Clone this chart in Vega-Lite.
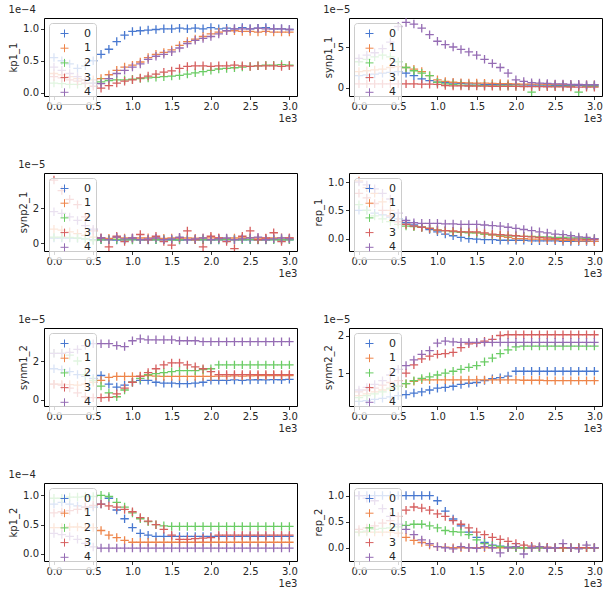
{
"$schema":"https://vega.github.io/schema/vega-lite/v6.json",
"background":"white",
"padding":{"left":8,"top":4,"right":4,"bottom":4},
"bounds":"flush",
"columns":2,
"spacing":{"row":77,"column":52},
"resolve":{"scale":{"color":"independent"},"legend":{"color":"independent"}},
"config":{
"font":"DejaVu Sans",
"view":{"stroke":"#000","strokeWidth":1},
"axis":{"domain":false,"grid":false,"tickColor":"#000","tickSize":3.5,"tickWidth":0.8,"labelFontSize":10,"labelColor":"#262626","titleFontSize":10,"titleFontWeight":"normal","titleColor":"#262626","labelPadding":2,"labelFlush":false,"labelOverlap":false},
"axisY":{"titlePadding":4},
"axisX":{"titleAnchor":"end","titlePadding":2},
"title":{"fontSize":10,"fontWeight":"normal","anchor":"start","offset":3,"color":"#262626"},
"legend":{"orient":"top-left","offset":5,"fillColor":"rgba(255,255,255,0.8)","strokeColor":"#cccccc","padding":5,"cornerRadius":3,"labelFontSize":11,"labelColor":"#262626","symbolType":"M-1,0L1,0M0,-1L0,1","symbolSize":64,"symbolStrokeWidth":1,"rowPadding":1.7,"labelOffset":14,"symbolOffset":5}
},
"datasets":{
"kp1_1":[
{"s":0,"x":0,"y":0.55},{"s":0,"x":100,"y":0.5},{"s":0,"x":200,"y":0.45},{"s":0,"x":300,"y":0.38},{"s":0,"x":400,"y":0.42},{"s":0,"x":500,"y":0.5},{"s":0,"x":600,"y":0.6},{"s":0,"x":700,"y":0.68},{"s":0,"x":800,"y":0.8},{"s":0,"x":900,"y":0.9},{"s":0,"x":1000,"y":0.96},{"s":0,"x":1100,"y":0.97},{"s":0,"x":1200,"y":0.98},{"s":0,"x":1300,"y":0.99},{"s":0,"x":1400,"y":1.0},{"s":0,"x":1500,"y":1.0},{"s":0,"x":1600,"y":1.01},{"s":0,"x":1700,"y":1.0},{"s":0,"x":1800,"y":1.01},{"s":0,"x":1900,"y":1.0},{"s":0,"x":2000,"y":1.02},{"s":0,"x":2100,"y":1.0},{"s":0,"x":2200,"y":1.01},{"s":0,"x":2300,"y":1.0},{"s":0,"x":2400,"y":1.02},{"s":0,"x":2500,"y":1.0},{"s":0,"x":2600,"y":1.01},{"s":0,"x":2700,"y":1.02},{"s":0,"x":2800,"y":1.0},{"s":0,"x":2900,"y":1.0},{"s":0,"x":3000,"y":0.99},
{"s":1,"x":0,"y":0.3},{"s":1,"x":100,"y":0.28},{"s":1,"x":200,"y":0.25},{"s":1,"x":300,"y":0.22},{"s":1,"x":400,"y":0.2},{"s":1,"x":500,"y":0.2},{"s":1,"x":600,"y":0.22},{"s":1,"x":700,"y":0.28},{"s":1,"x":800,"y":0.35},{"s":1,"x":900,"y":0.4},{"s":1,"x":1000,"y":0.43},{"s":1,"x":1100,"y":0.48},{"s":1,"x":1200,"y":0.55},{"s":1,"x":1300,"y":0.6},{"s":1,"x":1400,"y":0.63},{"s":1,"x":1500,"y":0.67},{"s":1,"x":1600,"y":0.74},{"s":1,"x":1700,"y":0.8},{"s":1,"x":1800,"y":0.84},{"s":1,"x":1900,"y":0.88},{"s":1,"x":2000,"y":0.92},{"s":1,"x":2100,"y":0.95},{"s":1,"x":2200,"y":0.97},{"s":1,"x":2300,"y":0.97},{"s":1,"x":2400,"y":0.96},{"s":1,"x":2500,"y":0.96},{"s":1,"x":2600,"y":0.95},{"s":1,"x":2700,"y":0.96},{"s":1,"x":2800,"y":0.95},{"s":1,"x":2900,"y":0.95},{"s":1,"x":3000,"y":0.95},
{"s":2,"x":0,"y":0.15},{"s":2,"x":100,"y":0.14},{"s":2,"x":200,"y":0.13},{"s":2,"x":300,"y":0.13},{"s":2,"x":400,"y":0.14},{"s":2,"x":500,"y":0.15},{"s":2,"x":600,"y":0.17},{"s":2,"x":700,"y":0.19},{"s":2,"x":800,"y":0.2},{"s":2,"x":900,"y":0.2},{"s":2,"x":1000,"y":0.21},{"s":2,"x":1100,"y":0.22},{"s":2,"x":1200,"y":0.23},{"s":2,"x":1300,"y":0.24},{"s":2,"x":1400,"y":0.25},{"s":2,"x":1500,"y":0.26},{"s":2,"x":1600,"y":0.27},{"s":2,"x":1700,"y":0.29},{"s":2,"x":1800,"y":0.31},{"s":2,"x":1900,"y":0.33},{"s":2,"x":2000,"y":0.35},{"s":2,"x":2100,"y":0.37},{"s":2,"x":2200,"y":0.38},{"s":2,"x":2300,"y":0.39},{"s":2,"x":2400,"y":0.4},{"s":2,"x":2500,"y":0.41},{"s":2,"x":2600,"y":0.42},{"s":2,"x":2700,"y":0.43},{"s":2,"x":2800,"y":0.43},{"s":2,"x":2900,"y":0.44},{"s":2,"x":3000,"y":0.43},
{"s":3,"x":0,"y":0.25},{"s":3,"x":100,"y":0.23},{"s":3,"x":200,"y":0.2},{"s":3,"x":300,"y":0.18},{"s":3,"x":400,"y":0.15},{"s":3,"x":500,"y":0.1},{"s":3,"x":600,"y":0.07},{"s":3,"x":700,"y":0.11},{"s":3,"x":800,"y":0.15},{"s":3,"x":900,"y":0.18},{"s":3,"x":1000,"y":0.2},{"s":3,"x":1100,"y":0.23},{"s":3,"x":1200,"y":0.26},{"s":3,"x":1300,"y":0.29},{"s":3,"x":1400,"y":0.32},{"s":3,"x":1500,"y":0.34},{"s":3,"x":1600,"y":0.38},{"s":3,"x":1700,"y":0.41},{"s":3,"x":1800,"y":0.42},{"s":3,"x":1900,"y":0.42},{"s":3,"x":2000,"y":0.41},{"s":3,"x":2100,"y":0.42},{"s":3,"x":2200,"y":0.42},{"s":3,"x":2300,"y":0.43},{"s":3,"x":2400,"y":0.42},{"s":3,"x":2500,"y":0.41},{"s":3,"x":2600,"y":0.42},{"s":3,"x":2700,"y":0.42},{"s":3,"x":2800,"y":0.42},{"s":3,"x":2900,"y":0.41},{"s":3,"x":3000,"y":0.42},
{"s":4,"x":0,"y":0.4},{"s":4,"x":100,"y":0.35},{"s":4,"x":200,"y":0.3},{"s":4,"x":300,"y":0.25},{"s":4,"x":400,"y":0.2},{"s":4,"x":500,"y":0.15},{"s":4,"x":600,"y":0.14},{"s":4,"x":700,"y":0.22},{"s":4,"x":800,"y":0.3},{"s":4,"x":900,"y":0.35},{"s":4,"x":1000,"y":0.4},{"s":4,"x":1100,"y":0.45},{"s":4,"x":1200,"y":0.52},{"s":4,"x":1300,"y":0.57},{"s":4,"x":1400,"y":0.6},{"s":4,"x":1500,"y":0.64},{"s":4,"x":1600,"y":0.7},{"s":4,"x":1700,"y":0.77},{"s":4,"x":1800,"y":0.82},{"s":4,"x":1900,"y":0.85},{"s":4,"x":2000,"y":0.88},{"s":4,"x":2100,"y":0.92},{"s":4,"x":2200,"y":0.97},{"s":4,"x":2300,"y":1.0},{"s":4,"x":2400,"y":1.0},{"s":4,"x":2500,"y":1.0},{"s":4,"x":2600,"y":1.01},{"s":4,"x":2700,"y":1.0},{"s":4,"x":2800,"y":1.0},{"s":4,"x":2900,"y":1.0},{"s":4,"x":3000,"y":0.99}
],
"synp1_1":[
{"s":0,"x":0,"y":1.5},{"s":0,"x":100,"y":1.6},{"s":0,"x":200,"y":1.7},{"s":0,"x":300,"y":1.8},{"s":0,"x":400,"y":1.9},{"s":0,"x":500,"y":2.0},{"s":0,"x":600,"y":1.8},{"s":0,"x":700,"y":1.5},{"s":0,"x":800,"y":1.1},{"s":0,"x":900,"y":0.9},{"s":0,"x":1000,"y":0.7},{"s":0,"x":1100,"y":0.65},{"s":0,"x":1200,"y":0.6},{"s":0,"x":1300,"y":0.55},{"s":0,"x":1400,"y":0.5},{"s":0,"x":1500,"y":0.5},{"s":0,"x":1600,"y":0.45},{"s":0,"x":1700,"y":0.45},{"s":0,"x":1800,"y":0.42},{"s":0,"x":1900,"y":0.4},{"s":0,"x":2000,"y":0.4},{"s":0,"x":2100,"y":0.38},{"s":0,"x":2200,"y":0.36},{"s":0,"x":2300,"y":0.35},{"s":0,"x":2400,"y":0.34},{"s":0,"x":2500,"y":0.33},{"s":0,"x":2600,"y":0.32},{"s":0,"x":2700,"y":0.31},{"s":0,"x":2800,"y":0.3},{"s":0,"x":2900,"y":0.3},{"s":0,"x":3000,"y":0.3},
{"s":1,"x":0,"y":2.0},{"s":1,"x":100,"y":2.1},{"s":1,"x":200,"y":2.2},{"s":1,"x":300,"y":2.3},{"s":1,"x":400,"y":2.5},{"s":1,"x":500,"y":2.6},{"s":1,"x":600,"y":2.5},{"s":1,"x":700,"y":2.3},{"s":1,"x":800,"y":2.0},{"s":1,"x":900,"y":1.5},{"s":1,"x":1000,"y":1.0},{"s":1,"x":1100,"y":0.8},{"s":1,"x":1200,"y":0.7},{"s":1,"x":1300,"y":0.65},{"s":1,"x":1400,"y":0.62},{"s":1,"x":1500,"y":0.6},{"s":1,"x":1600,"y":0.58},{"s":1,"x":1700,"y":0.56},{"s":1,"x":1800,"y":0.54},{"s":1,"x":1900,"y":0.52},{"s":1,"x":2000,"y":0.5},{"s":1,"x":2100,"y":0.48},{"s":1,"x":2200,"y":0.47},{"s":1,"x":2300,"y":0.46},{"s":1,"x":2400,"y":0.45},{"s":1,"x":2500,"y":0.44},{"s":1,"x":2600,"y":0.43},{"s":1,"x":2700,"y":0.42},{"s":1,"x":2800,"y":0.41},{"s":1,"x":2900,"y":0.4},{"s":1,"x":3000,"y":0.4},
{"s":2,"x":0,"y":3.2},{"s":2,"x":100,"y":3.5},{"s":2,"x":200,"y":3.8},{"s":2,"x":300,"y":4.0},{"s":2,"x":400,"y":3.8},{"s":2,"x":500,"y":3.2},{"s":2,"x":600,"y":2.5},{"s":2,"x":700,"y":2.1},{"s":2,"x":800,"y":1.8},{"s":2,"x":900,"y":1.5},{"s":2,"x":1000,"y":0.7},{"s":2,"x":1100,"y":0.5},{"s":2,"x":1200,"y":0.4},{"s":2,"x":1300,"y":0.35},{"s":2,"x":1400,"y":0.3},{"s":2,"x":1500,"y":0.3},{"s":2,"x":1600,"y":0.28},{"s":2,"x":1700,"y":0.26},{"s":2,"x":1800,"y":0.25},{"s":2,"x":1900,"y":0.24},{"s":2,"x":2000,"y":0.22},{"s":2,"x":2100,"y":0.2},{"s":2,"x":2200,"y":-0.5},{"s":2,"x":2300,"y":0.2},{"s":2,"x":2400,"y":0.2},{"s":2,"x":2500,"y":0.2},{"s":2,"x":2600,"y":0.2},{"s":2,"x":2700,"y":0.2},{"s":2,"x":2800,"y":-0.5},{"s":2,"x":2900,"y":0.2},{"s":2,"x":3000,"y":0.2},
{"s":3,"x":0,"y":0.5},{"s":3,"x":100,"y":0.5},{"s":3,"x":200,"y":0.5},{"s":3,"x":300,"y":0.5},{"s":3,"x":400,"y":0.5},{"s":3,"x":500,"y":0.5},{"s":3,"x":600,"y":0.5},{"s":3,"x":700,"y":0.5},{"s":3,"x":800,"y":0.48},{"s":3,"x":900,"y":0.46},{"s":3,"x":1000,"y":0.45},{"s":3,"x":1100,"y":0.3},{"s":3,"x":1200,"y":0.25},{"s":3,"x":1300,"y":0.25},{"s":3,"x":1400,"y":0.24},{"s":3,"x":1500,"y":0.23},{"s":3,"x":1600,"y":0.22},{"s":3,"x":1700,"y":0.21},{"s":3,"x":1800,"y":0.2},{"s":3,"x":1900,"y":0.2},{"s":3,"x":2000,"y":0.19},{"s":3,"x":2100,"y":0.18},{"s":3,"x":2200,"y":0.17},{"s":3,"x":2300,"y":0.16},{"s":3,"x":2400,"y":0.15},{"s":3,"x":2500,"y":0.14},{"s":3,"x":2600,"y":0.13},{"s":3,"x":2700,"y":0.12},{"s":3,"x":2800,"y":0.11},{"s":3,"x":2900,"y":0.1},{"s":3,"x":3000,"y":0.1},
{"s":4,"x":0,"y":3.6},{"s":4,"x":100,"y":4.0},{"s":4,"x":200,"y":4.3},{"s":4,"x":300,"y":4.8},{"s":4,"x":400,"y":5.6},{"s":4,"x":500,"y":7.5},{"s":4,"x":600,"y":8.0},{"s":4,"x":700,"y":7.8},{"s":4,"x":800,"y":7.3},{"s":4,"x":900,"y":6.5},{"s":4,"x":1000,"y":5.7},{"s":4,"x":1100,"y":5.3},{"s":4,"x":1200,"y":5.0},{"s":4,"x":1300,"y":4.7},{"s":4,"x":1400,"y":4.4},{"s":4,"x":1500,"y":4.0},{"s":4,"x":1600,"y":3.5},{"s":4,"x":1700,"y":3.0},{"s":4,"x":1800,"y":2.5},{"s":4,"x":1900,"y":1.8},{"s":4,"x":2000,"y":1.0},{"s":4,"x":2100,"y":0.8},{"s":4,"x":2200,"y":0.65},{"s":4,"x":2300,"y":0.6},{"s":4,"x":2400,"y":0.55},{"s":4,"x":2500,"y":0.5},{"s":4,"x":2600,"y":0.5},{"s":4,"x":2700,"y":0.45},{"s":4,"x":2800,"y":0.45},{"s":4,"x":2900,"y":0.4},{"s":4,"x":3000,"y":0.4}
],
"synp2_1":[
{"s":0,"x":0,"y":0.3},{"s":0,"x":100,"y":0.3},{"s":0,"x":200,"y":0.3},{"s":0,"x":300,"y":0.28},{"s":0,"x":400,"y":0.25},{"s":0,"x":500,"y":0.2},{"s":0,"x":600,"y":0.2},{"s":0,"x":700,"y":0.22},{"s":0,"x":800,"y":0.18},{"s":0,"x":900,"y":0.2},{"s":0,"x":1000,"y":0.21},{"s":0,"x":1100,"y":0.2},{"s":0,"x":1200,"y":0.19},{"s":0,"x":1300,"y":0.2},{"s":0,"x":1400,"y":0.22},{"s":0,"x":1500,"y":0.2},{"s":0,"x":1600,"y":0.18},{"s":0,"x":1700,"y":0.2},{"s":0,"x":1800,"y":0.21},{"s":0,"x":1900,"y":0.2},{"s":0,"x":2000,"y":0.2},{"s":0,"x":2100,"y":0.19},{"s":0,"x":2200,"y":0.2},{"s":0,"x":2300,"y":0.21},{"s":0,"x":2400,"y":0.2},{"s":0,"x":2500,"y":0.2},{"s":0,"x":2600,"y":0.19},{"s":0,"x":2700,"y":0.2},{"s":0,"x":2800,"y":0.21},{"s":0,"x":2900,"y":0.2},{"s":0,"x":3000,"y":0.2},
{"s":1,"x":0,"y":0.8},{"s":1,"x":100,"y":0.75},{"s":1,"x":200,"y":0.65},{"s":1,"x":300,"y":0.55},{"s":1,"x":400,"y":0.45},{"s":1,"x":500,"y":0.35},{"s":1,"x":600,"y":0.3},{"s":1,"x":700,"y":0.28},{"s":1,"x":800,"y":0.32},{"s":1,"x":900,"y":0.3},{"s":1,"x":1000,"y":0.29},{"s":1,"x":1100,"y":0.3},{"s":1,"x":1200,"y":0.31},{"s":1,"x":1300,"y":0.3},{"s":1,"x":1400,"y":0.28},{"s":1,"x":1500,"y":0.3},{"s":1,"x":1600,"y":0.32},{"s":1,"x":1700,"y":0.3},{"s":1,"x":1800,"y":0.29},{"s":1,"x":1900,"y":0.3},{"s":1,"x":2000,"y":0.31},{"s":1,"x":2100,"y":0.3},{"s":1,"x":2200,"y":0.28},{"s":1,"x":2300,"y":0.3},{"s":1,"x":2400,"y":0.3},{"s":1,"x":2500,"y":0.32},{"s":1,"x":2600,"y":0.3},{"s":1,"x":2700,"y":0.29},{"s":1,"x":2800,"y":0.3},{"s":1,"x":2900,"y":0.31},{"s":1,"x":3000,"y":0.3},
{"s":2,"x":0,"y":0.35},{"s":2,"x":100,"y":0.35},{"s":2,"x":200,"y":0.33},{"s":2,"x":300,"y":0.3},{"s":2,"x":400,"y":0.25},{"s":2,"x":500,"y":0.15},{"s":2,"x":600,"y":0.2},{"s":2,"x":700,"y":0.2},{"s":2,"x":800,"y":0.22},{"s":2,"x":900,"y":0.2},{"s":2,"x":1000,"y":0.19},{"s":2,"x":1100,"y":0.2},{"s":2,"x":1200,"y":0.21},{"s":2,"x":1300,"y":0.2},{"s":2,"x":1400,"y":0.2},{"s":2,"x":1500,"y":0.18},{"s":2,"x":1600,"y":0.2},{"s":2,"x":1700,"y":0.21},{"s":2,"x":1800,"y":0.2},{"s":2,"x":1900,"y":0.2},{"s":2,"x":2000,"y":0.19},{"s":2,"x":2100,"y":0.2},{"s":2,"x":2200,"y":0.22},{"s":2,"x":2300,"y":0.2},{"s":2,"x":2400,"y":0.2},{"s":2,"x":2500,"y":0.21},{"s":2,"x":2600,"y":0.2},{"s":2,"x":2700,"y":0.19},{"s":2,"x":2800,"y":0.2},{"s":2,"x":2900,"y":0.2},{"s":2,"x":3000,"y":0.2},
{"s":3,"x":0,"y":3.6},{"s":3,"x":100,"y":3.0},{"s":3,"x":200,"y":2.5},{"s":3,"x":300,"y":2.2},{"s":3,"x":400,"y":1.5},{"s":3,"x":500,"y":0.7},{"s":3,"x":600,"y":0.3},{"s":3,"x":700,"y":-0.2},{"s":3,"x":800,"y":0.4},{"s":3,"x":900,"y":0.1},{"s":3,"x":1000,"y":0.3},{"s":3,"x":1100,"y":0.5},{"s":3,"x":1200,"y":0.2},{"s":3,"x":1300,"y":0.4},{"s":3,"x":1400,"y":0.1},{"s":3,"x":1500,"y":-0.1},{"s":3,"x":1600,"y":0.3},{"s":3,"x":1700,"y":0.7},{"s":3,"x":1800,"y":0.2},{"s":3,"x":1900,"y":-0.2},{"s":3,"x":2000,"y":0.4},{"s":3,"x":2100,"y":0.3},{"s":3,"x":2200,"y":0.1},{"s":3,"x":2300,"y":-0.3},{"s":3,"x":2400,"y":0.4},{"s":3,"x":2500,"y":0.7},{"s":3,"x":2600,"y":0.2},{"s":3,"x":2700,"y":0.3},{"s":3,"x":2800,"y":0.6},{"s":3,"x":2900,"y":0.1},{"s":3,"x":3000,"y":0.3},
{"s":4,"x":0,"y":1.8},{"s":4,"x":100,"y":1.7},{"s":4,"x":200,"y":1.5},{"s":4,"x":300,"y":1.3},{"s":4,"x":400,"y":1.0},{"s":4,"x":500,"y":0.8},{"s":4,"x":600,"y":0.3},{"s":4,"x":700,"y":0.2},{"s":4,"x":800,"y":0.35},{"s":4,"x":900,"y":0.25},{"s":4,"x":1000,"y":0.3},{"s":4,"x":1100,"y":0.2},{"s":4,"x":1200,"y":0.25},{"s":4,"x":1300,"y":0.3},{"s":4,"x":1400,"y":0.2},{"s":4,"x":1500,"y":0.25},{"s":4,"x":1600,"y":0.35},{"s":4,"x":1700,"y":0.2},{"s":4,"x":1800,"y":0.25},{"s":4,"x":1900,"y":0.3},{"s":4,"x":2000,"y":0.2},{"s":4,"x":2100,"y":0.25},{"s":4,"x":2200,"y":0.3},{"s":4,"x":2300,"y":0.2},{"s":4,"x":2400,"y":0.25},{"s":4,"x":2500,"y":0.3},{"s":4,"x":2600,"y":0.35},{"s":4,"x":2700,"y":0.2},{"s":4,"x":2800,"y":0.25},{"s":4,"x":2900,"y":0.3},{"s":4,"x":3000,"y":0.25}
],
"rep_1":[
{"s":0,"x":0,"y":0.5},{"s":0,"x":100,"y":0.5},{"s":0,"x":200,"y":0.45},{"s":0,"x":300,"y":0.42},{"s":0,"x":400,"y":0.38},{"s":0,"x":500,"y":0.35},{"s":0,"x":600,"y":0.28},{"s":0,"x":700,"y":0.24},{"s":0,"x":800,"y":0.2},{"s":0,"x":900,"y":0.16},{"s":0,"x":1000,"y":0.12},{"s":0,"x":1100,"y":0.08},{"s":0,"x":1200,"y":0.05},{"s":0,"x":1300,"y":0.02},{"s":0,"x":1400,"y":0.0},{"s":0,"x":1500,"y":-0.01},{"s":0,"x":1600,"y":-0.02},{"s":0,"x":1700,"y":-0.02},{"s":0,"x":1800,"y":-0.03},{"s":0,"x":1900,"y":-0.03},{"s":0,"x":2000,"y":-0.03},{"s":0,"x":2100,"y":-0.03},{"s":0,"x":2200,"y":-0.04},{"s":0,"x":2300,"y":-0.04},{"s":0,"x":2400,"y":-0.04},{"s":0,"x":2500,"y":-0.04},{"s":0,"x":2600,"y":-0.05},{"s":0,"x":2700,"y":-0.05},{"s":0,"x":2800,"y":-0.05},{"s":0,"x":2900,"y":-0.05},{"s":0,"x":3000,"y":-0.05},
{"s":1,"x":0,"y":1.02},{"s":1,"x":100,"y":0.9},{"s":1,"x":200,"y":0.8},{"s":1,"x":300,"y":0.65},{"s":1,"x":400,"y":0.5},{"s":1,"x":500,"y":0.3},{"s":1,"x":600,"y":0.25},{"s":1,"x":700,"y":0.22},{"s":1,"x":800,"y":0.2},{"s":1,"x":900,"y":0.18},{"s":1,"x":1000,"y":0.15},{"s":1,"x":1100,"y":0.14},{"s":1,"x":1200,"y":0.13},{"s":1,"x":1300,"y":0.12},{"s":1,"x":1400,"y":0.11},{"s":1,"x":1500,"y":0.1},{"s":1,"x":1600,"y":0.08},{"s":1,"x":1700,"y":0.06},{"s":1,"x":1800,"y":0.04},{"s":1,"x":1900,"y":0.02},{"s":1,"x":2000,"y":0.0},{"s":1,"x":2100,"y":0.0},{"s":1,"x":2200,"y":-0.01},{"s":1,"x":2300,"y":-0.01},{"s":1,"x":2400,"y":-0.02},{"s":1,"x":2500,"y":-0.02},{"s":1,"x":2600,"y":-0.03},{"s":1,"x":2700,"y":-0.03},{"s":1,"x":2800,"y":-0.04},{"s":1,"x":2900,"y":-0.04},{"s":1,"x":3000,"y":-0.05},
{"s":2,"x":0,"y":0.6},{"s":2,"x":100,"y":0.5},{"s":2,"x":200,"y":0.4},{"s":2,"x":300,"y":0.35},{"s":2,"x":400,"y":0.3},{"s":2,"x":500,"y":0.25},{"s":2,"x":600,"y":0.22},{"s":2,"x":700,"y":0.21},{"s":2,"x":800,"y":0.2},{"s":2,"x":900,"y":0.18},{"s":2,"x":1000,"y":0.15},{"s":2,"x":1100,"y":0.14},{"s":2,"x":1200,"y":0.12},{"s":2,"x":1300,"y":0.11},{"s":2,"x":1400,"y":0.1},{"s":2,"x":1500,"y":0.1},{"s":2,"x":1600,"y":0.08},{"s":2,"x":1700,"y":0.07},{"s":2,"x":1800,"y":0.06},{"s":2,"x":1900,"y":0.05},{"s":2,"x":2000,"y":0.05},{"s":2,"x":2100,"y":0.04},{"s":2,"x":2200,"y":0.04},{"s":2,"x":2300,"y":0.03},{"s":2,"x":2400,"y":0.03},{"s":2,"x":2500,"y":0.02},{"s":2,"x":2600,"y":0.02},{"s":2,"x":2700,"y":0.01},{"s":2,"x":2800,"y":0.01},{"s":2,"x":2900,"y":0.0},{"s":2,"x":3000,"y":0.0},
{"s":3,"x":0,"y":0.8},{"s":3,"x":100,"y":0.72},{"s":3,"x":200,"y":0.62},{"s":3,"x":300,"y":0.5},{"s":3,"x":400,"y":0.4},{"s":3,"x":500,"y":0.3},{"s":3,"x":600,"y":0.25},{"s":3,"x":700,"y":0.22},{"s":3,"x":800,"y":0.2},{"s":3,"x":900,"y":0.18},{"s":3,"x":1000,"y":0.15},{"s":3,"x":1100,"y":0.14},{"s":3,"x":1200,"y":0.13},{"s":3,"x":1300,"y":0.12},{"s":3,"x":1400,"y":0.12},{"s":3,"x":1500,"y":0.12},{"s":3,"x":1600,"y":0.1},{"s":3,"x":1700,"y":0.08},{"s":3,"x":1800,"y":0.07},{"s":3,"x":1900,"y":0.06},{"s":3,"x":2000,"y":0.05},{"s":3,"x":2100,"y":0.04},{"s":3,"x":2200,"y":0.03},{"s":3,"x":2300,"y":0.02},{"s":3,"x":2400,"y":0.01},{"s":3,"x":2500,"y":0.0},{"s":3,"x":2600,"y":0.0},{"s":3,"x":2700,"y":-0.01},{"s":3,"x":2800,"y":-0.01},{"s":3,"x":2900,"y":-0.02},{"s":3,"x":3000,"y":-0.02},
{"s":4,"x":0,"y":1.0},{"s":4,"x":100,"y":0.95},{"s":4,"x":200,"y":0.88},{"s":4,"x":300,"y":0.8},{"s":4,"x":400,"y":0.7},{"s":4,"x":500,"y":0.45},{"s":4,"x":600,"y":0.32},{"s":4,"x":700,"y":0.28},{"s":4,"x":800,"y":0.27},{"s":4,"x":900,"y":0.27},{"s":4,"x":1000,"y":0.27},{"s":4,"x":1100,"y":0.26},{"s":4,"x":1200,"y":0.26},{"s":4,"x":1300,"y":0.25},{"s":4,"x":1400,"y":0.25},{"s":4,"x":1500,"y":0.25},{"s":4,"x":1600,"y":0.24},{"s":4,"x":1700,"y":0.23},{"s":4,"x":1800,"y":0.22},{"s":4,"x":1900,"y":0.2},{"s":4,"x":2000,"y":0.18},{"s":4,"x":2100,"y":0.16},{"s":4,"x":2200,"y":0.14},{"s":4,"x":2300,"y":0.12},{"s":4,"x":2400,"y":0.1},{"s":4,"x":2500,"y":0.08},{"s":4,"x":2600,"y":0.07},{"s":4,"x":2700,"y":0.05},{"s":4,"x":2800,"y":0.03},{"s":4,"x":2900,"y":0.02},{"s":4,"x":3000,"y":0.0}
],
"synm1_2":[
{"s":0,"x":0,"y":1.6},{"s":0,"x":100,"y":1.55},{"s":0,"x":200,"y":1.45},{"s":0,"x":300,"y":1.3},{"s":0,"x":400,"y":1.2},{"s":0,"x":500,"y":1.1},{"s":0,"x":600,"y":1.25},{"s":0,"x":700,"y":0.8},{"s":0,"x":800,"y":0.65},{"s":0,"x":900,"y":0.75},{"s":0,"x":1000,"y":0.9},{"s":0,"x":1100,"y":1.0},{"s":0,"x":1200,"y":1.0},{"s":0,"x":1300,"y":0.9},{"s":0,"x":1400,"y":0.85},{"s":0,"x":1500,"y":0.85},{"s":0,"x":1600,"y":0.83},{"s":0,"x":1700,"y":0.83},{"s":0,"x":1800,"y":0.85},{"s":0,"x":1900,"y":0.9},{"s":0,"x":2000,"y":1.0},{"s":0,"x":2100,"y":1.0},{"s":0,"x":2200,"y":1.0},{"s":0,"x":2300,"y":1.02},{"s":0,"x":2400,"y":1.0},{"s":0,"x":2500,"y":1.02},{"s":0,"x":2600,"y":1.03},{"s":0,"x":2700,"y":1.02},{"s":0,"x":2800,"y":1.04},{"s":0,"x":2900,"y":1.03},{"s":0,"x":3000,"y":1.05},
{"s":1,"x":0,"y":0.8},{"s":1,"x":100,"y":0.8},{"s":1,"x":200,"y":0.78},{"s":1,"x":300,"y":0.75},{"s":1,"x":400,"y":0.8},{"s":1,"x":500,"y":0.9},{"s":1,"x":600,"y":1.0},{"s":1,"x":700,"y":1.15},{"s":1,"x":800,"y":1.2},{"s":1,"x":900,"y":1.2},{"s":1,"x":1000,"y":1.2},{"s":1,"x":1100,"y":1.22},{"s":1,"x":1200,"y":1.25},{"s":1,"x":1300,"y":1.22},{"s":1,"x":1400,"y":1.2},{"s":1,"x":1500,"y":1.2},{"s":1,"x":1600,"y":1.2},{"s":1,"x":1700,"y":1.2},{"s":1,"x":1800,"y":1.2},{"s":1,"x":1900,"y":1.2},{"s":1,"x":2000,"y":1.2},{"s":1,"x":2100,"y":1.22},{"s":1,"x":2200,"y":1.22},{"s":1,"x":2300,"y":1.23},{"s":1,"x":2400,"y":1.22},{"s":1,"x":2500,"y":1.23},{"s":1,"x":2600,"y":1.24},{"s":1,"x":2700,"y":1.24},{"s":1,"x":2800,"y":1.25},{"s":1,"x":2900,"y":1.24},{"s":1,"x":3000,"y":1.25},
{"s":2,"x":0,"y":2.4},{"s":2,"x":100,"y":2.4},{"s":2,"x":200,"y":2.3},{"s":2,"x":300,"y":2.0},{"s":2,"x":400,"y":1.3},{"s":2,"x":500,"y":1.0},{"s":2,"x":600,"y":0.7},{"s":2,"x":700,"y":0.35},{"s":2,"x":800,"y":0.15},{"s":2,"x":900,"y":0.5},{"s":2,"x":1000,"y":0.9},{"s":2,"x":1100,"y":1.1},{"s":2,"x":1200,"y":1.3},{"s":2,"x":1300,"y":1.35},{"s":2,"x":1400,"y":1.4},{"s":2,"x":1500,"y":1.45},{"s":2,"x":1600,"y":1.5},{"s":2,"x":1700,"y":1.5},{"s":2,"x":1800,"y":1.5},{"s":2,"x":1900,"y":1.55},{"s":2,"x":2000,"y":1.6},{"s":2,"x":2100,"y":1.8},{"s":2,"x":2200,"y":1.8},{"s":2,"x":2300,"y":1.8},{"s":2,"x":2400,"y":1.8},{"s":2,"x":2500,"y":1.8},{"s":2,"x":2600,"y":1.8},{"s":2,"x":2700,"y":1.8},{"s":2,"x":2800,"y":1.8},{"s":2,"x":2900,"y":1.8},{"s":2,"x":3000,"y":1.8},
{"s":3,"x":0,"y":0.8},{"s":3,"x":100,"y":0.75},{"s":3,"x":200,"y":0.6},{"s":3,"x":300,"y":0.35},{"s":3,"x":400,"y":0.15},{"s":3,"x":500,"y":0.1},{"s":3,"x":600,"y":0.1},{"s":3,"x":700,"y":0.12},{"s":3,"x":800,"y":0.3},{"s":3,"x":900,"y":0.6},{"s":3,"x":1000,"y":0.9},{"s":3,"x":1100,"y":1.2},{"s":3,"x":1200,"y":1.4},{"s":3,"x":1300,"y":1.6},{"s":3,"x":1400,"y":1.8},{"s":3,"x":1500,"y":1.9},{"s":3,"x":1600,"y":1.9},{"s":3,"x":1700,"y":1.8},{"s":3,"x":1800,"y":1.7},{"s":3,"x":1900,"y":1.6},{"s":3,"x":2000,"y":1.45},{"s":3,"x":2100,"y":1.3},{"s":3,"x":2200,"y":1.3},{"s":3,"x":2300,"y":1.3},{"s":3,"x":2400,"y":1.3},{"s":3,"x":2500,"y":1.3},{"s":3,"x":2600,"y":1.3},{"s":3,"x":2700,"y":1.3},{"s":3,"x":2800,"y":1.3},{"s":3,"x":2900,"y":1.3},{"s":3,"x":3000,"y":1.3},
{"s":4,"x":0,"y":2.4},{"s":4,"x":100,"y":2.4},{"s":4,"x":200,"y":2.45},{"s":4,"x":300,"y":2.6},{"s":4,"x":400,"y":2.8},{"s":4,"x":500,"y":2.9},{"s":4,"x":600,"y":2.9},{"s":4,"x":700,"y":2.9},{"s":4,"x":800,"y":2.8},{"s":4,"x":900,"y":2.75},{"s":4,"x":1000,"y":3.05},{"s":4,"x":1100,"y":3.15},{"s":4,"x":1200,"y":3.1},{"s":4,"x":1300,"y":3.1},{"s":4,"x":1400,"y":3.1},{"s":4,"x":1500,"y":3.1},{"s":4,"x":1600,"y":3.05},{"s":4,"x":1700,"y":3.05},{"s":4,"x":1800,"y":3.05},{"s":4,"x":1900,"y":3.0},{"s":4,"x":2000,"y":3.0},{"s":4,"x":2100,"y":3.0},{"s":4,"x":2200,"y":3.0},{"s":4,"x":2300,"y":3.0},{"s":4,"x":2400,"y":3.0},{"s":4,"x":2500,"y":3.0},{"s":4,"x":2600,"y":3.0},{"s":4,"x":2700,"y":3.0},{"s":4,"x":2800,"y":3.0},{"s":4,"x":2900,"y":3.0},{"s":4,"x":3000,"y":3.0}
],
"synm2_2":[
{"s":0,"x":0,"y":0.25},{"s":0,"x":100,"y":0.27},{"s":0,"x":200,"y":0.3},{"s":0,"x":300,"y":0.33},{"s":0,"x":400,"y":0.37},{"s":0,"x":500,"y":0.4},{"s":0,"x":600,"y":0.43},{"s":0,"x":700,"y":0.47},{"s":0,"x":800,"y":0.5},{"s":0,"x":900,"y":0.55},{"s":0,"x":1000,"y":0.6},{"s":0,"x":1100,"y":0.62},{"s":0,"x":1200,"y":0.65},{"s":0,"x":1300,"y":0.7},{"s":0,"x":1400,"y":0.73},{"s":0,"x":1500,"y":0.75},{"s":0,"x":1600,"y":0.8},{"s":0,"x":1700,"y":0.85},{"s":0,"x":1800,"y":0.88},{"s":0,"x":1900,"y":0.92},{"s":0,"x":2000,"y":1.05},{"s":0,"x":2100,"y":1.05},{"s":0,"x":2200,"y":1.05},{"s":0,"x":2300,"y":1.05},{"s":0,"x":2400,"y":1.05},{"s":0,"x":2500,"y":1.05},{"s":0,"x":2600,"y":1.05},{"s":0,"x":2700,"y":1.05},{"s":0,"x":2800,"y":1.05},{"s":0,"x":2900,"y":1.05},{"s":0,"x":3000,"y":1.05},
{"s":1,"x":0,"y":0.4},{"s":1,"x":100,"y":0.45},{"s":1,"x":200,"y":0.5},{"s":1,"x":300,"y":0.55},{"s":1,"x":400,"y":0.6},{"s":1,"x":500,"y":0.65},{"s":1,"x":600,"y":0.72},{"s":1,"x":700,"y":0.78},{"s":1,"x":800,"y":0.82},{"s":1,"x":900,"y":0.82},{"s":1,"x":1000,"y":0.82},{"s":1,"x":1100,"y":0.82},{"s":1,"x":1200,"y":0.82},{"s":1,"x":1300,"y":0.82},{"s":1,"x":1400,"y":0.82},{"s":1,"x":1500,"y":0.82},{"s":1,"x":1600,"y":0.82},{"s":1,"x":1700,"y":0.82},{"s":1,"x":1800,"y":0.82},{"s":1,"x":1900,"y":0.82},{"s":1,"x":2000,"y":0.82},{"s":1,"x":2100,"y":0.81},{"s":1,"x":2200,"y":0.81},{"s":1,"x":2300,"y":0.81},{"s":1,"x":2400,"y":0.8},{"s":1,"x":2500,"y":0.8},{"s":1,"x":2600,"y":0.8},{"s":1,"x":2700,"y":0.8},{"s":1,"x":2800,"y":0.8},{"s":1,"x":2900,"y":0.8},{"s":1,"x":3000,"y":0.8},
{"s":2,"x":0,"y":0.35},{"s":2,"x":100,"y":0.4},{"s":2,"x":200,"y":0.45},{"s":2,"x":300,"y":0.5},{"s":2,"x":400,"y":0.58},{"s":2,"x":500,"y":0.65},{"s":2,"x":600,"y":0.72},{"s":2,"x":700,"y":0.8},{"s":2,"x":800,"y":0.86},{"s":2,"x":900,"y":0.9},{"s":2,"x":1000,"y":0.95},{"s":2,"x":1100,"y":1.0},{"s":2,"x":1200,"y":1.05},{"s":2,"x":1300,"y":1.1},{"s":2,"x":1400,"y":1.15},{"s":2,"x":1500,"y":1.2},{"s":2,"x":1600,"y":1.3},{"s":2,"x":1700,"y":1.4},{"s":2,"x":1800,"y":1.52},{"s":2,"x":1900,"y":1.62},{"s":2,"x":2000,"y":1.7},{"s":2,"x":2100,"y":1.72},{"s":2,"x":2200,"y":1.72},{"s":2,"x":2300,"y":1.72},{"s":2,"x":2400,"y":1.72},{"s":2,"x":2500,"y":1.72},{"s":2,"x":2600,"y":1.72},{"s":2,"x":2700,"y":1.72},{"s":2,"x":2800,"y":1.72},{"s":2,"x":2900,"y":1.72},{"s":2,"x":3000,"y":1.72},
{"s":3,"x":0,"y":0.5},{"s":3,"x":100,"y":0.55},{"s":3,"x":200,"y":0.6},{"s":3,"x":300,"y":0.68},{"s":3,"x":400,"y":0.75},{"s":3,"x":500,"y":0.8},{"s":3,"x":600,"y":1.0},{"s":3,"x":700,"y":1.22},{"s":3,"x":800,"y":1.38},{"s":3,"x":900,"y":1.45},{"s":3,"x":1000,"y":1.5},{"s":3,"x":1100,"y":1.52},{"s":3,"x":1200,"y":1.55},{"s":3,"x":1300,"y":1.68},{"s":3,"x":1400,"y":1.78},{"s":3,"x":1500,"y":1.8},{"s":3,"x":1600,"y":1.85},{"s":3,"x":1700,"y":1.9},{"s":3,"x":1800,"y":2.0},{"s":3,"x":1900,"y":2.02},{"s":3,"x":2000,"y":2.02},{"s":3,"x":2100,"y":2.02},{"s":3,"x":2200,"y":2.02},{"s":3,"x":2300,"y":2.02},{"s":3,"x":2400,"y":2.02},{"s":3,"x":2500,"y":2.02},{"s":3,"x":2600,"y":2.02},{"s":3,"x":2700,"y":2.02},{"s":3,"x":2800,"y":2.02},{"s":3,"x":2900,"y":2.02},{"s":3,"x":3000,"y":2.02},
{"s":4,"x":0,"y":0.55},{"s":4,"x":100,"y":0.62},{"s":4,"x":200,"y":0.7},{"s":4,"x":300,"y":0.8},{"s":4,"x":400,"y":0.95},{"s":4,"x":500,"y":1.1},{"s":4,"x":600,"y":1.2},{"s":4,"x":700,"y":1.35},{"s":4,"x":800,"y":1.5},{"s":4,"x":900,"y":1.6},{"s":4,"x":1000,"y":1.8},{"s":4,"x":1100,"y":1.85},{"s":4,"x":1200,"y":1.83},{"s":4,"x":1300,"y":1.82},{"s":4,"x":1400,"y":1.82},{"s":4,"x":1500,"y":1.82},{"s":4,"x":1600,"y":1.82},{"s":4,"x":1700,"y":1.82},{"s":4,"x":1800,"y":1.82},{"s":4,"x":1900,"y":1.82},{"s":4,"x":2000,"y":1.82},{"s":4,"x":2100,"y":1.82},{"s":4,"x":2200,"y":1.82},{"s":4,"x":2300,"y":1.82},{"s":4,"x":2400,"y":1.82},{"s":4,"x":2500,"y":1.82},{"s":4,"x":2600,"y":1.82},{"s":4,"x":2700,"y":1.82},{"s":4,"x":2800,"y":1.82},{"s":4,"x":2900,"y":1.82},{"s":4,"x":3000,"y":1.82}
],
"kp1_2":[
{"s":0,"x":0,"y":0.85},{"s":0,"x":100,"y":0.88},{"s":0,"x":200,"y":0.85},{"s":0,"x":300,"y":0.82},{"s":0,"x":400,"y":0.8},{"s":0,"x":500,"y":0.8},{"s":0,"x":600,"y":0.85},{"s":0,"x":700,"y":0.95},{"s":0,"x":800,"y":0.75},{"s":0,"x":900,"y":0.6},{"s":0,"x":1000,"y":0.45},{"s":0,"x":1100,"y":0.35},{"s":0,"x":1200,"y":0.32},{"s":0,"x":1300,"y":0.3},{"s":0,"x":1400,"y":0.3},{"s":0,"x":1500,"y":0.3},{"s":0,"x":1600,"y":0.3},{"s":0,"x":1700,"y":0.3},{"s":0,"x":1800,"y":0.3},{"s":0,"x":1900,"y":0.3},{"s":0,"x":2000,"y":0.3},{"s":0,"x":2100,"y":0.3},{"s":0,"x":2200,"y":0.3},{"s":0,"x":2300,"y":0.3},{"s":0,"x":2400,"y":0.3},{"s":0,"x":2500,"y":0.3},{"s":0,"x":2600,"y":0.3},{"s":0,"x":2700,"y":0.3},{"s":0,"x":2800,"y":0.3},{"s":0,"x":2900,"y":0.3},{"s":0,"x":3000,"y":0.3},
{"s":1,"x":0,"y":0.45},{"s":1,"x":100,"y":0.45},{"s":1,"x":200,"y":0.46},{"s":1,"x":300,"y":0.46},{"s":1,"x":400,"y":0.45},{"s":1,"x":500,"y":0.45},{"s":1,"x":600,"y":0.4},{"s":1,"x":700,"y":0.32},{"s":1,"x":800,"y":0.28},{"s":1,"x":900,"y":0.23},{"s":1,"x":1000,"y":0.2},{"s":1,"x":1100,"y":0.2},{"s":1,"x":1200,"y":0.2},{"s":1,"x":1300,"y":0.2},{"s":1,"x":1400,"y":0.2},{"s":1,"x":1500,"y":0.2},{"s":1,"x":1600,"y":0.2},{"s":1,"x":1700,"y":0.2},{"s":1,"x":1800,"y":0.2},{"s":1,"x":1900,"y":0.2},{"s":1,"x":2000,"y":0.2},{"s":1,"x":2100,"y":0.2},{"s":1,"x":2200,"y":0.2},{"s":1,"x":2300,"y":0.2},{"s":1,"x":2400,"y":0.2},{"s":1,"x":2500,"y":0.2},{"s":1,"x":2600,"y":0.2},{"s":1,"x":2700,"y":0.2},{"s":1,"x":2800,"y":0.2},{"s":1,"x":2900,"y":0.2},{"s":1,"x":3000,"y":0.2},
{"s":2,"x":0,"y":0.95},{"s":2,"x":100,"y":0.95},{"s":2,"x":200,"y":0.97},{"s":2,"x":300,"y":0.97},{"s":2,"x":400,"y":0.98},{"s":2,"x":500,"y":0.98},{"s":2,"x":600,"y":1.0},{"s":2,"x":700,"y":0.98},{"s":2,"x":800,"y":0.88},{"s":2,"x":900,"y":0.8},{"s":2,"x":1000,"y":0.7},{"s":2,"x":1100,"y":0.6},{"s":2,"x":1200,"y":0.55},{"s":2,"x":1300,"y":0.5},{"s":2,"x":1400,"y":0.48},{"s":2,"x":1500,"y":0.47},{"s":2,"x":1600,"y":0.47},{"s":2,"x":1700,"y":0.47},{"s":2,"x":1800,"y":0.47},{"s":2,"x":1900,"y":0.47},{"s":2,"x":2000,"y":0.47},{"s":2,"x":2100,"y":0.47},{"s":2,"x":2200,"y":0.47},{"s":2,"x":2300,"y":0.47},{"s":2,"x":2400,"y":0.47},{"s":2,"x":2500,"y":0.47},{"s":2,"x":2600,"y":0.47},{"s":2,"x":2700,"y":0.47},{"s":2,"x":2800,"y":0.47},{"s":2,"x":2900,"y":0.47},{"s":2,"x":3000,"y":0.47},
{"s":3,"x":0,"y":0.7},{"s":3,"x":100,"y":0.72},{"s":3,"x":200,"y":0.74},{"s":3,"x":300,"y":0.76},{"s":3,"x":400,"y":0.8},{"s":3,"x":500,"y":0.83},{"s":3,"x":600,"y":0.85},{"s":3,"x":700,"y":0.82},{"s":3,"x":800,"y":0.8},{"s":3,"x":900,"y":0.76},{"s":3,"x":1000,"y":0.72},{"s":3,"x":1100,"y":0.62},{"s":3,"x":1200,"y":0.56},{"s":3,"x":1300,"y":0.5},{"s":3,"x":1400,"y":0.42},{"s":3,"x":1500,"y":0.32},{"s":3,"x":1600,"y":0.25},{"s":3,"x":1700,"y":0.25},{"s":3,"x":1800,"y":0.26},{"s":3,"x":1900,"y":0.27},{"s":3,"x":2000,"y":0.28},{"s":3,"x":2100,"y":0.32},{"s":3,"x":2200,"y":0.32},{"s":3,"x":2300,"y":0.32},{"s":3,"x":2400,"y":0.32},{"s":3,"x":2500,"y":0.32},{"s":3,"x":2600,"y":0.32},{"s":3,"x":2700,"y":0.32},{"s":3,"x":2800,"y":0.32},{"s":3,"x":2900,"y":0.32},{"s":3,"x":3000,"y":0.32},
{"s":4,"x":0,"y":0.35},{"s":4,"x":100,"y":0.33},{"s":4,"x":200,"y":0.3},{"s":4,"x":300,"y":0.25},{"s":4,"x":400,"y":0.18},{"s":4,"x":500,"y":0.12},{"s":4,"x":600,"y":0.1},{"s":4,"x":700,"y":0.1},{"s":4,"x":800,"y":0.1},{"s":4,"x":900,"y":0.1},{"s":4,"x":1000,"y":0.1},{"s":4,"x":1100,"y":0.1},{"s":4,"x":1200,"y":0.1},{"s":4,"x":1300,"y":0.1},{"s":4,"x":1400,"y":0.1},{"s":4,"x":1500,"y":0.1},{"s":4,"x":1600,"y":0.1},{"s":4,"x":1700,"y":0.1},{"s":4,"x":1800,"y":0.1},{"s":4,"x":1900,"y":0.1},{"s":4,"x":2000,"y":0.1},{"s":4,"x":2100,"y":0.1},{"s":4,"x":2200,"y":0.1},{"s":4,"x":2300,"y":0.1},{"s":4,"x":2400,"y":0.1},{"s":4,"x":2500,"y":0.1},{"s":4,"x":2600,"y":0.1},{"s":4,"x":2700,"y":0.1},{"s":4,"x":2800,"y":0.1},{"s":4,"x":2900,"y":0.1},{"s":4,"x":3000,"y":0.1}
],
"rep_2":[
{"s":0,"x":0,"y":1.0},{"s":0,"x":100,"y":1.0},{"s":0,"x":200,"y":1.0},{"s":0,"x":300,"y":1.0},{"s":0,"x":400,"y":1.0},{"s":0,"x":500,"y":1.0},{"s":0,"x":600,"y":1.0},{"s":0,"x":700,"y":1.0},{"s":0,"x":800,"y":1.0},{"s":0,"x":900,"y":1.0},{"s":0,"x":1000,"y":0.9},{"s":0,"x":1100,"y":0.7},{"s":0,"x":1200,"y":0.55},{"s":0,"x":1300,"y":0.42},{"s":0,"x":1400,"y":0.3},{"s":0,"x":1500,"y":0.2},{"s":0,"x":1600,"y":0.1},{"s":0,"x":1700,"y":0.05},{"s":0,"x":1800,"y":0.03},{"s":0,"x":1900,"y":0.01},{"s":0,"x":2000,"y":0.0},{"s":0,"x":2100,"y":0.0},{"s":0,"x":2200,"y":0.0},{"s":0,"x":2300,"y":0.0},{"s":0,"x":2400,"y":0.0},{"s":0,"x":2500,"y":0.0},{"s":0,"x":2600,"y":0.0},{"s":0,"x":2700,"y":0.0},{"s":0,"x":2800,"y":0.0},{"s":0,"x":2900,"y":0.0},{"s":0,"x":3000,"y":0.0},
{"s":1,"x":0,"y":0.3},{"s":1,"x":100,"y":0.3},{"s":1,"x":200,"y":0.3},{"s":1,"x":300,"y":0.3},{"s":1,"x":400,"y":0.3},{"s":1,"x":500,"y":0.28},{"s":1,"x":600,"y":0.2},{"s":1,"x":700,"y":0.14},{"s":1,"x":800,"y":0.1},{"s":1,"x":900,"y":0.05},{"s":1,"x":1000,"y":0.02},{"s":1,"x":1100,"y":0.01},{"s":1,"x":1200,"y":0.0},{"s":1,"x":1300,"y":0.0},{"s":1,"x":1400,"y":0.0},{"s":1,"x":1500,"y":0.0},{"s":1,"x":1600,"y":0.0},{"s":1,"x":1700,"y":0.0},{"s":1,"x":1800,"y":0.0},{"s":1,"x":1900,"y":0.0},{"s":1,"x":2000,"y":0.0},{"s":1,"x":2100,"y":0.0},{"s":1,"x":2200,"y":0.0},{"s":1,"x":2300,"y":0.0},{"s":1,"x":2400,"y":0.0},{"s":1,"x":2500,"y":0.0},{"s":1,"x":2600,"y":0.0},{"s":1,"x":2700,"y":0.0},{"s":1,"x":2800,"y":0.0},{"s":1,"x":2900,"y":0.0},{"s":1,"x":3000,"y":0.0},
{"s":2,"x":0,"y":0.3},{"s":2,"x":100,"y":0.32},{"s":2,"x":200,"y":0.35},{"s":2,"x":300,"y":0.37},{"s":2,"x":400,"y":0.38},{"s":2,"x":500,"y":0.4},{"s":2,"x":600,"y":0.43},{"s":2,"x":700,"y":0.45},{"s":2,"x":800,"y":0.45},{"s":2,"x":900,"y":0.42},{"s":2,"x":1000,"y":0.38},{"s":2,"x":1100,"y":0.33},{"s":2,"x":1200,"y":0.31},{"s":2,"x":1300,"y":0.3},{"s":2,"x":1400,"y":0.25},{"s":2,"x":1500,"y":0.15},{"s":2,"x":1600,"y":0.08},{"s":2,"x":1700,"y":0.04},{"s":2,"x":1800,"y":0.02},{"s":2,"x":1900,"y":0.01},{"s":2,"x":2000,"y":0.0},{"s":2,"x":2100,"y":0.0},{"s":2,"x":2200,"y":0.0},{"s":2,"x":2300,"y":0.0},{"s":2,"x":2400,"y":0.0},{"s":2,"x":2500,"y":0.0},{"s":2,"x":2600,"y":0.0},{"s":2,"x":2700,"y":0.0},{"s":2,"x":2800,"y":0.0},{"s":2,"x":2900,"y":0.0},{"s":2,"x":3000,"y":0.0},
{"s":3,"x":0,"y":0.35},{"s":3,"x":100,"y":0.38},{"s":3,"x":200,"y":0.42},{"s":3,"x":300,"y":0.47},{"s":3,"x":400,"y":0.52},{"s":3,"x":500,"y":0.6},{"s":3,"x":600,"y":0.72},{"s":3,"x":700,"y":0.78},{"s":3,"x":800,"y":0.76},{"s":3,"x":900,"y":0.72},{"s":3,"x":1000,"y":0.65},{"s":3,"x":1100,"y":0.6},{"s":3,"x":1200,"y":0.52},{"s":3,"x":1300,"y":0.45},{"s":3,"x":1400,"y":0.38},{"s":3,"x":1500,"y":0.3},{"s":3,"x":1600,"y":0.25},{"s":3,"x":1700,"y":0.2},{"s":3,"x":1800,"y":0.16},{"s":3,"x":1900,"y":0.12},{"s":3,"x":2000,"y":0.08},{"s":3,"x":2100,"y":0.05},{"s":3,"x":2200,"y":0.03},{"s":3,"x":2300,"y":0.02},{"s":3,"x":2400,"y":0.01},{"s":3,"x":2500,"y":0.0},{"s":3,"x":2600,"y":0.0},{"s":3,"x":2700,"y":0.0},{"s":3,"x":2800,"y":0.0},{"s":3,"x":2900,"y":0.0},{"s":3,"x":3000,"y":0.0},
{"s":4,"x":0,"y":1.0},{"s":4,"x":100,"y":0.95},{"s":4,"x":200,"y":0.9},{"s":4,"x":300,"y":0.75},{"s":4,"x":400,"y":0.6},{"s":4,"x":500,"y":0.45},{"s":4,"x":600,"y":0.35},{"s":4,"x":700,"y":0.25},{"s":4,"x":800,"y":0.15},{"s":4,"x":900,"y":0.08},{"s":4,"x":1000,"y":0.02},{"s":4,"x":1100,"y":0.0},{"s":4,"x":1200,"y":-0.02},{"s":4,"x":1300,"y":0.02},{"s":4,"x":1400,"y":0.0},{"s":4,"x":1500,"y":-0.01},{"s":4,"x":1600,"y":0.02},{"s":4,"x":1700,"y":0.0},{"s":4,"x":1800,"y":-0.1},{"s":4,"x":1900,"y":0.0},{"s":4,"x":2000,"y":0.02},{"s":4,"x":2100,"y":-0.12},{"s":4,"x":2200,"y":0.0},{"s":4,"x":2300,"y":0.02},{"s":4,"x":2400,"y":-0.01},{"s":4,"x":2500,"y":0.0},{"s":4,"x":2600,"y":0.08},{"s":4,"x":2700,"y":0.0},{"s":4,"x":2800,"y":-0.02},{"s":4,"x":2900,"y":0.05},{"s":4,"x":3000,"y":0.0}
]
},
"concat":[
{"width":253,"height":78,"data":{"name":"kp1_1"},"title":"1e−4",
"mark":{"type":"point","shape":"M-1,0L1,0M0,-1L0,1","filled":false,"size":72,"strokeWidth":1.3,"opacity":1,"clip":true},
"encoding":{
"x":{"field":"x","type":"quantitative","scale":{"domain":[-127,3097],"nice":false,"zero":false},"axis":{"values":[0,500,1000,1500,2000,2500,3000],"labelExpr":"format(datum.value/1000,'.1f')","title":"1e3"}},
"y":{"field":"y","type":"quantitative","scale":{"domain":[-0.053,1.17],"nice":false,"zero":false},"axis":{"values":[0,0.5,1],"format":".1f","title":"kp1_1"}},
"color":{"field":"s","type":"nominal","scale":{"domain":[0,1,2,3,4],"range":["#4878d0","#ee854a","#6acc64","#d65f5f","#956cb4"]},"legend":{"title":null}}}},
{"width":253,"height":78,"data":{"name":"synp1_1"},"title":"1e−5",
"mark":{"type":"point","shape":"M-1,0L1,0M0,-1L0,1","filled":false,"size":72,"strokeWidth":1.3,"opacity":1,"clip":true},
"encoding":{
"x":{"field":"x","type":"quantitative","scale":{"domain":[-127,3097],"nice":false,"zero":false},"axis":{"values":[0,500,1000,1500,2000,2500,3000],"labelExpr":"format(datum.value/1000,'.1f')","title":"1e3"}},
"y":{"field":"y","type":"quantitative","scale":{"domain":[-0.98,8.54],"nice":false,"zero":false},"axis":{"values":[0,5],"format":"d","title":"synp1_1"}},
"color":{"field":"s","type":"nominal","scale":{"domain":[0,1,2,3,4],"range":["#4878d0","#ee854a","#6acc64","#d65f5f","#956cb4"]},"legend":{"title":null}}}},
{"width":253,"height":78,"data":{"name":"synp2_1"},"title":"1e−5",
"mark":{"type":"point","shape":"M-1,0L1,0M0,-1L0,1","filled":false,"size":72,"strokeWidth":1.3,"opacity":1,"clip":true},
"encoding":{
"x":{"field":"x","type":"quantitative","scale":{"domain":[-127,3097],"nice":false,"zero":false},"axis":{"values":[0,500,1000,1500,2000,2500,3000],"labelExpr":"format(datum.value/1000,'.1f')","title":"1e3"}},
"y":{"field":"y","type":"quantitative","scale":{"domain":[-0.44,4.0],"nice":false,"zero":false},"axis":{"values":[0,2],"format":"d","title":"synp2_1"}},
"color":{"field":"s","type":"nominal","scale":{"domain":[0,1,2,3,4],"range":["#4878d0","#ee854a","#6acc64","#d65f5f","#956cb4"]},"legend":{"title":null}}}},
{"width":253,"height":78,"data":{"name":"rep_1"},
"mark":{"type":"point","shape":"M-1,0L1,0M0,-1L0,1","filled":false,"size":72,"strokeWidth":1.3,"opacity":1,"clip":true},
"encoding":{
"x":{"field":"x","type":"quantitative","scale":{"domain":[-127,3097],"nice":false,"zero":false},"axis":{"values":[0,500,1000,1500,2000,2500,3000],"labelExpr":"format(datum.value/1000,'.1f')","title":"1e3"}},
"y":{"field":"y","type":"quantitative","scale":{"domain":[-0.22,1.16],"nice":false,"zero":false},"axis":{"values":[0,0.5,1],"format":".1f","title":"rep_1"}},
"color":{"field":"s","type":"nominal","scale":{"domain":[0,1,2,3,4],"range":["#4878d0","#ee854a","#6acc64","#d65f5f","#956cb4"]},"legend":{"title":null}}}},
{"width":253,"height":78,"data":{"name":"synm1_2"},"title":"1e−5",
"mark":{"type":"point","shape":"M-1,0L1,0M0,-1L0,1","filled":false,"size":72,"strokeWidth":1.3,"opacity":1,"clip":true},
"encoding":{
"x":{"field":"x","type":"quantitative","scale":{"domain":[-127,3097],"nice":false,"zero":false},"axis":{"values":[0,500,1000,1500,2000,2500,3000],"labelExpr":"format(datum.value/1000,'.1f')","title":"1e3"}},
"y":{"field":"y","type":"quantitative","scale":{"domain":[-0.33,3.71],"nice":false,"zero":false},"axis":{"values":[0,2],"format":"d","title":"synm1_2"}},
"color":{"field":"s","type":"nominal","scale":{"domain":[0,1,2,3,4],"range":["#4878d0","#ee854a","#6acc64","#d65f5f","#956cb4"]},"legend":{"title":null}}}},
{"width":253,"height":78,"data":{"name":"synm2_2"},"title":"1e−5",
"mark":{"type":"point","shape":"M-1,0L1,0M0,-1L0,1","filled":false,"size":72,"strokeWidth":1.3,"opacity":1,"clip":true},
"encoding":{
"x":{"field":"x","type":"quantitative","scale":{"domain":[-127,3097],"nice":false,"zero":false},"axis":{"values":[0,500,1000,1500,2000,2500,3000],"labelExpr":"format(datum.value/1000,'.1f')","title":"1e3"}},
"y":{"field":"y","type":"quantitative","scale":{"domain":[0.125,2.2],"nice":false,"zero":false},"axis":{"values":[1,2],"format":"d","title":"synm2_2"}},
"color":{"field":"s","type":"nominal","scale":{"domain":[0,1,2,3,4],"range":["#4878d0","#ee854a","#6acc64","#d65f5f","#956cb4"]},"legend":{"title":null}}}},
{"width":253,"height":78,"data":{"name":"kp1_2"},"title":"1e−4",
"mark":{"type":"point","shape":"M-1,0L1,0M0,-1L0,1","filled":false,"size":72,"strokeWidth":1.3,"opacity":1,"clip":true},
"encoding":{
"x":{"field":"x","type":"quantitative","scale":{"domain":[-127,3097],"nice":false,"zero":false},"axis":{"values":[0,500,1000,1500,2000,2500,3000],"labelExpr":"format(datum.value/1000,'.1f')","title":"1e3"}},
"y":{"field":"y","type":"quantitative","scale":{"domain":[-0.12,1.21],"nice":false,"zero":false},"axis":{"values":[0,0.5,1],"format":".1f","title":"kp1_2"}},
"color":{"field":"s","type":"nominal","scale":{"domain":[0,1,2,3,4],"range":["#4878d0","#ee854a","#6acc64","#d65f5f","#956cb4"]},"legend":{"title":null}}}},
{"width":253,"height":78,"data":{"name":"rep_2"},
"mark":{"type":"point","shape":"M-1,0L1,0M0,-1L0,1","filled":false,"size":72,"strokeWidth":1.3,"opacity":1,"clip":true},
"encoding":{
"x":{"field":"x","type":"quantitative","scale":{"domain":[-127,3097],"nice":false,"zero":false},"axis":{"values":[0,500,1000,1500,2000,2500,3000],"labelExpr":"format(datum.value/1000,'.1f')","title":"1e3"}},
"y":{"field":"y","type":"quantitative","scale":{"domain":[-0.254,1.24],"nice":false,"zero":false},"axis":{"values":[0,0.5,1],"format":".1f","title":"rep_2"}},
"color":{"field":"s","type":"nominal","scale":{"domain":[0,1,2,3,4],"range":["#4878d0","#ee854a","#6acc64","#d65f5f","#956cb4"]},"legend":{"title":null}}}}
]
}
